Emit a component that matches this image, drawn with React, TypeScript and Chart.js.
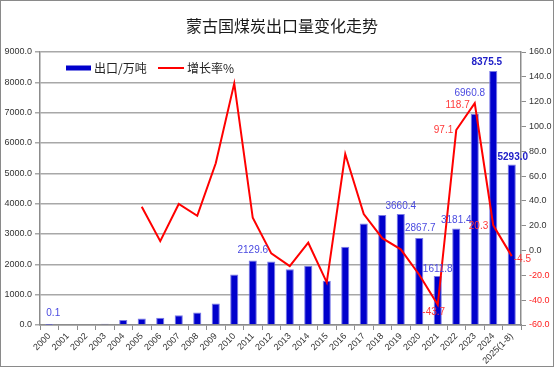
import React, { useEffect, useRef } from "react";
import { Chart, registerables } from "chart.js";

Chart.register(...registerables);

const categories = [
  "2000", "2001", "2002", "2003", "2004", "2005", "2006", "2007", "2008", "2009",
  "2010", "2011", "2012", "2013", "2014", "2015", "2016", "2017", "2018", "2019",
  "2020", "2021", "2022", "2023", "2024", "2025(1-8)",
];

const exportVolume = [
  0.1, 0, 0, 40, 161, 218, 235, 324, 416, 709,
  1665, 2129.6, 2092, 1840, 1950, 1455, 2578, 3345, 3626, 3660.4,
  2867.7, 1611.8, 3181.4, 6960.8, 8375.5, 5293.0,
];

const growthRate: (number | null)[] = [
  null, null, null, null, null, 35.3, 7.6, 37.5, 28.0, 70.3,
  134.7, 26.4, -2.3, -12.5, 6.3, -25.6, 77.8, 29.4, 10.0, 1.0,
  -19.5, -43.7, 97.1, 118.7, 20.3, -4.5,
];

const leftTicks = { min: 0, max: 9000, step: 1000 };
const rightTicks = { min: -60, max: 160, step: 20 };

const titleText = "蒙古国煤炭出口量变化走势";
const seriesNames = ["出口/万吨", "增长率%"];

const barLabelIdx = [0, 11, 19, 20, 21, 22, 23, 24, 25];
const barBoldIdx = [24, 25];
const rateLabelIdx = [21, 22, 23, 24, 25];

// styling: label placement offsets (pixels relative to the mark)
const barLabelOffset: Record<number, [number, number]> = {
  0: [4, -12], 11: [0, -10], 19: [0, -8], 20: [1, -10], 21: [0, -7],
  22: [0, -8], 23: [-5, -21], 24: [-6.5, -8.5], 25: [1, -7],
};
const rateLabelPlace: Record<number, { dx: number; dy: number; align: CanvasTextAlign }> = {
  21: { dx: -4, dy: 7, align: "center" },
  22: { dx: -3, dy: 0, align: "right" },
  23: { dx: -5, dy: 2, align: "right" },
  24: { dx: -5, dy: 1, align: "right" },
  25: { dx: 2, dy: 3, align: "left" },
};

const FONT = "'Liberation Sans', Arial, sans-serif";
const CJK = "'Noto Sans CJK SC', 'Liberation Sans', sans-serif";
const BAR_COLOR = "#0000CC";
const LINE_COLOR = "#FF0000";
const GRID = "#a8a8a8";
const AXIS = "#8c8c8c";

const decoPlugin = {
  id: "deco",
  beforeDraw(chart: any) {
    const ctx = chart.ctx;
    ctx.save();
    ctx.fillStyle = "#ffffff";
    ctx.fillRect(0, 0, chart.width, chart.height);
    ctx.restore();
  },
  afterDatasetsDraw(chart: any) {
    const ctx = chart.ctx;
    const barMeta = chart.getDatasetMeta(0);
    const lineMeta = chart.getDatasetMeta(1);
    ctx.save();
    ctx.textBaseline = "middle";
    barLabelIdx.forEach((i) => {
      const el = barMeta.data[i];
      if (!el) return;
      const bold = barBoldIdx.includes(i);
      const [dx, dy] = barLabelOffset[i] || [0, -9];
      ctx.font = bold ? `bold 10px ${FONT}` : `10px ${FONT}`;
      ctx.fillStyle = bold ? "#2020C8" : "#4a4ae0";
      ctx.textAlign = "center";
      ctx.fillText(exportVolume[i].toFixed(1), el.x + dx, el.y + dy);
    });
    rateLabelIdx.forEach((i) => {
      const el = lineMeta.data[i];
      const v = growthRate[i];
      if (!el || v == null) return;
      const p = rateLabelPlace[i];
      ctx.font = `10px ${FONT}`;
      ctx.fillStyle = "#FF3838";
      ctx.textAlign = p.align;
      ctx.fillText(v.toFixed(1), el.x + p.dx, el.y + p.dy);
    });
    ctx.restore();
  },
  afterDraw(chart: any) {
    const ctx = chart.ctx;
    const area = chart.chartArea;
    ctx.save();
    // title
    ctx.font = `16px ${CJK}`;
    ctx.fillStyle = "#1a1a1a";
    ctx.textAlign = "center";
    ctx.textBaseline = "middle";
    ctx.fillText(titleText, 282, 26);
    // legend (inside plot area)
    const ly = area.top + 16;
    ctx.fillStyle = BAR_COLOR;
    ctx.fillRect(area.left + 26, ly - 2.5, 25, 5);
    ctx.font = `12px ${CJK}`;
    ctx.fillStyle = "#222";
    ctx.textAlign = "left";
    ctx.fillText(seriesNames[0], area.left + 54, ly);
    ctx.strokeStyle = LINE_COLOR;
    ctx.lineWidth = 2;
    ctx.beginPath();
    ctx.moveTo(area.left + 118, ly);
    ctx.lineTo(area.left + 144, ly);
    ctx.stroke();
    ctx.fillText(seriesNames[1], area.left + 147, ly);
    // outer frame
    ctx.strokeStyle = "#8a8a8a";
    ctx.lineWidth = 1;
    ctx.strokeRect(0.5, 0.5, chart.width - 2, chart.height - 4);
    ctx.restore();
  },
};

export default function App() {
  const ref = useRef<HTMLCanvasElement | null>(null);

  useEffect(() => {
    document.body.style.margin = "0";
    if (!ref.current) return;
    const chart = new Chart(ref.current, {
      type: "bar",
      data: {
        labels: categories,
        datasets: [
          {
            type: "bar",
            label: seriesNames[0],
            data: exportVolume,
            backgroundColor: BAR_COLOR,
            borderColor: "#7a7ae6",
            borderWidth: 1,
            barPercentage: 0.44,
            categoryPercentage: 1,
            yAxisID: "y",
            order: 1,
          },
          {
            type: "line",
            label: seriesNames[1],
            data: growthRate,
            borderColor: LINE_COLOR,
            backgroundColor: LINE_COLOR,
            borderWidth: 2,
            pointRadius: 0,
            tension: 0,
            spanGaps: false,
            yAxisID: "y1",
            order: 0,
          },
        ],
      },
      options: {
        responsive: false,
        animation: false,
        devicePixelRatio: 1,
        layout: { padding: { top: 52, left: 0, right: 0, bottom: 0 } },
        plugins: {
          legend: { display: false },
          title: { display: false },
          tooltip: { enabled: false },
        },
        scales: {
          x: {
            grid: {
              drawOnChartArea: false,
              drawTicks: true,
              tickLength: 5,
              color: AXIS,
              offset: true,
            },
            border: { color: AXIS, width: 1.5 },
            ticks: {
              autoSkip: false,
              maxRotation: 45,
              minRotation: 45,
              padding: 1,
              color: "#333",
              font: { size: 9, family: FONT },
            },
            afterFit: (s: any) => {
              s.height = 45;
            },
          },
          y: {
            position: "left",
            min: leftTicks.min,
            max: leftTicks.max,
            grid: { color: GRID, lineWidth: 1.5, tickLength: 5 },
            border: { color: AXIS, width: 1.5 },
            ticks: {
              stepSize: leftTicks.step,
              padding: 3,
              color: "#333",
              font: { size: 9, family: FONT },
              callback: (v: any) => Number(v).toFixed(1),
            },
            afterFit: (s: any) => {
              s.width = 40;
            },
          },
          y1: {
            position: "right",
            min: rightTicks.min,
            max: rightTicks.max,
            grid: { drawOnChartArea: false, color: AXIS, tickLength: 5 },
            border: { color: AXIS, width: 1.5 },
            ticks: {
              stepSize: rightTicks.step,
              padding: 3,
              font: { size: 9, family: FONT },
              color: (c: any) => (c.tick && c.tick.value < 0 ? "#FF2020" : "#333"),
              callback: (v: any) => Number(v).toFixed(1),
            },
            afterFit: (s: any) => {
              s.width = 34;
            },
          },
        },
      },
      plugins: [decoPlugin],
    } as any);
    return () => chart.destroy();
  }, []);

  return (
    <div style={{ width: 555, height: 370 }}>
      <canvas ref={ref} width={555} height={370} style={{ width: 555, height: 370, display: "block" }} />
    </div>
  );
}
